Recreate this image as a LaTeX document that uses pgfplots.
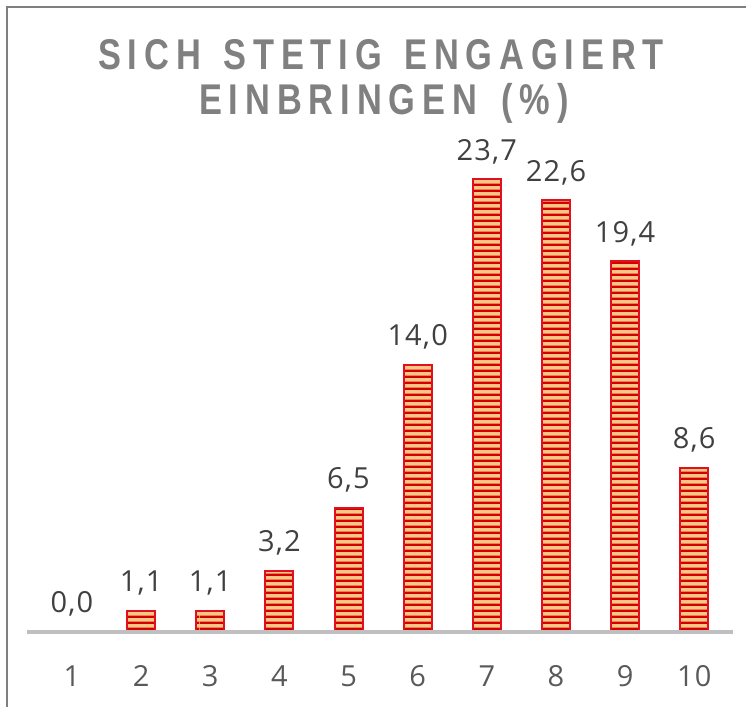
\documentclass[border=0pt]{standalone}
\usepackage{fontspec}
\setmainfont{Open Sans}
\newfontfamily\titlefont[FakeStretch=0.8,LetterSpace=16]{Liberation Sans Bold}
\newfontfamily\numfont[LetterSpace=4]{Open Sans}
\usepackage{pgfplots}
\pgfplotsset{compat=1.18}
\usetikzlibrary{patterns}
\pgfdeclarepatternformonly{hstripes}{\pgfpoint{0bp}{0bp}}{\pgfpoint{200bp}{5.5bp}}{\pgfpoint{200bp}{5.5bp}}{%
  \pgfpathrectangle{\pgfpoint{0bp}{0bp}}{\pgfpoint{200bp}{2.7bp}}\pgfusepath{fill}}
\definecolor{barred}{HTML}{E0101F}
\definecolor{stripe}{HTML}{D40000}
\definecolor{peach}{HTML}{F8C685}
\definecolor{titlegray}{HTML}{808080}
\definecolor{labgray}{HTML}{404040}
\definecolor{tickgray}{HTML}{595959}
\definecolor{basegray}{HTML}{BFBFBF}
\definecolor{framegray}{HTML}{7F7F7F}
\begin{document}
\begin{tikzpicture}[x=1bp,y=1bp]
\useasboundingbox (0,0) rectangle (746,707);
\draw[framegray, line width=1.2bp] (7,0) -- (7,700) -- (746,700);
\node[titlegray, align=center, font=\titlefont\fontsize{43bp}{48bp}\selectfont] at (381,652) {SICH\hspace{6bp} STETIG\hspace{6bp} ENGAGIERT};
\node[titlegray, align=center, font=\titlefont\fontsize{43bp}{48bp}\selectfont] at (384,604) {EINBRINGEN\hspace{8bp} (\%)};
\begin{axis}[
  at={(27bp,75bp)}, anchor=south west,
  scale only axis, width=706bp, height=492bp,
  xmin=0.35, xmax=10.56, ymin=0, ymax=25.76,
  axis line style={draw=none},
  ytick=\empty,
  xtick={1,2,3,4,5,6,7,8,9,10},
  major tick length=0pt,
  /pgf/number format/assume math mode=true,
  xticklabel style={font=\numfont\fontsize{29bp}{32bp}\selectfont, text=tickgray, yshift=-30bp},
  ybar, bar width=28bp,
  nodes near coords={\pgfmathprintnumber[fixed, fixed zerofill, precision=1, use comma]{\pgfplotspointmeta}},
  nodes near coords style={font=\numfont\fontsize{29bp}{32bp}\selectfont, text=labgray, anchor=south, yshift=11bp},
  clip=false,
]
\addplot[draw=barred, line width=2bp, pattern=hstripes, pattern color=stripe,
  preaction={fill=peach}]
  coordinates {(1,0.0) (2,1.1) (3,1.1) (4,3.2) (5,6.5) (6,14.0) (7,23.7) (8,22.6) (9,19.4) (10,8.6)};
\draw[basegray, line width=4bp] (axis cs:0.35,0) -- (axis cs:10.56,0);
\end{axis}
\end{tikzpicture}
\end{document}
